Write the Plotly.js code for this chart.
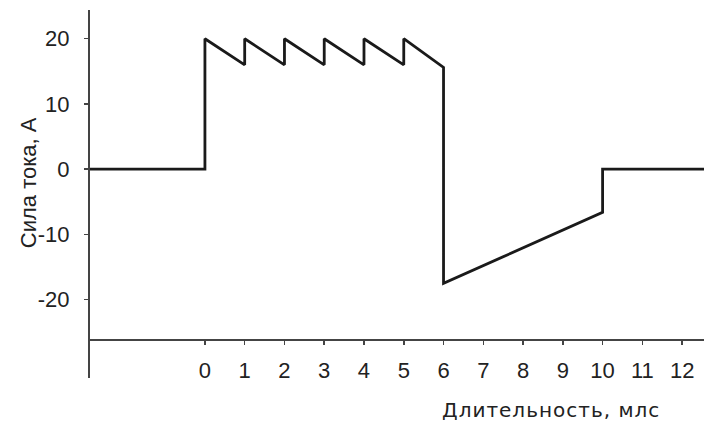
<!DOCTYPE html>
<html>
<head>
<meta charset="utf-8">
<script src="https://cdn.plot.ly/plotly-3.0.1.min.js"></script>
<style>
  html, body { margin: 0; padding: 0; background: #fff; }
  #chart { width: 712px; height: 427px; }
</style>
</head>
<body>
<div id="chart"></div>
<script>
// Current pulse: time (ms) and current (A)
const timeMs = [-2.89, 0, 0, 1, 1, 2, 2, 3, 3, 4, 4, 5, 5, 6, 6, 10, 10, 12.55];
const currentA = [0, 0, 20, 16, 20, 16, 20, 16, 20, 16, 20, 16, 20, 15.6, -17.5, -6.6, 0, 0];

const xTicks = [0, 1, 2, 3, 4, 5, 6, 7, 8, 9, 10, 11, 12];
const yTicks = [-20, -10, 0, 10, 20];
const yTickText = ['-20', '-10', '0', '10', '20'];

const font = { family: 'Liberation Sans, Arial, sans-serif', size: 22, color: '#222' };
const yTitleFont = { family: 'Liberation Sans, Arial, sans-serif', size: 22, color: '#222' };
const xTitleFont = { family: 'DejaVu Sans, Liberation Sans, sans-serif', size: 20, color: '#222' };

const trace = {
  x: timeMs,
  y: currentA,
  type: 'scatter',
  mode: 'lines',
  line: { color: '#1a1a1a', width: 2.8 },
  hoverinfo: 'skip'
};

const layout = {
  width: 712,
  height: 427,
  margin: { l: 90, r: 8, t: 10, b: 49 },
  paper_bgcolor: '#fff',
  plot_bgcolor: '#fff',
  showlegend: false,
  font: font,
  xaxis: {
    range: [-2.89, 12.55],
    anchor: 'free',
    position: 0.1033,
    showgrid: false,
    zeroline: false,
    showline: true,
    linecolor: '#444',
    linewidth: 2,
    ticks: 'outside',
    ticklen: 4,
    tickwidth: 1.5,
    tickcolor: '#444',
    tickvals: xTicks,
    ticklabelstandoff: 7,
    tickfont: font
  },
  yaxis: {
    range: [-32, 24.4],
    showgrid: false,
    zeroline: false,
    showline: true,
    linecolor: '#444',
    linewidth: 2,
    ticks: 'outside',
    ticklen: 4,
    tickwidth: 1.5,
    tickcolor: '#444',
    tickvals: yTicks,
    ticktext: yTickText,
    ticklabelstandoff: 10,
    tickfont: font
  },
  annotations: [
    {
      text: '<span style="letter-spacing:1px">Длительность, млс</span>',
      xref: 'paper', yref: 'paper',
      x: 0.751, y: -0.088,
      xanchor: 'center', yanchor: 'middle',
      showarrow: false,
      font: xTitleFont
    },
    {
      text: 'Сила тока, А',
      xref: 'paper', yref: 'paper',
      x: -0.099, y: 0.53,
      xanchor: 'center', yanchor: 'middle',
      textangle: -90,
      showarrow: false,
      font: yTitleFont
    }
  ]
};

Plotly.newPlot('chart', [trace], layout, { staticPlot: true, displayModeBar: false });
</script>
</body>
</html>
